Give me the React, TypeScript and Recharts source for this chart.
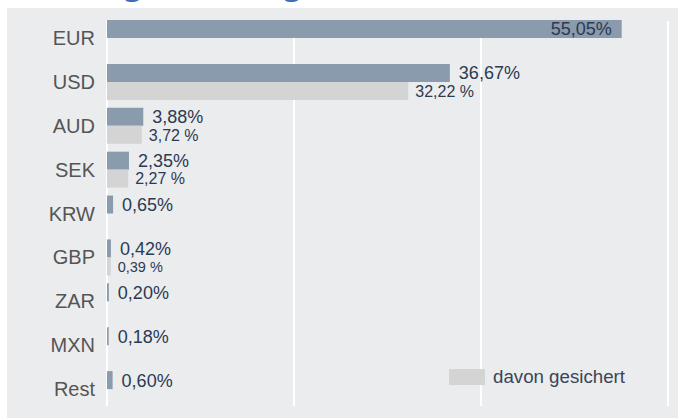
import React from 'react'
import { BarChart, Bar, XAxis, YAxis, CartesianGrid, LabelList } from 'recharts'

const categories = ['EUR', 'USD', 'AUD', 'SEK', 'KRW', 'GBP', 'ZAR', 'MXN', 'Rest']
const shareValues = [55.05, 36.67, 3.88, 2.35, 0.65, 0.42, 0.2, 0.18, 0.6]
const hedgedValues: (number | null)[] = [null, 32.22, 3.72, 2.27, null, 0.39, null, null, null]
const xTicks = [0, 20, 40, 60]

const data = categories.map((name, i) => ({ name, share: shareValues[i], hedged: hedgedValues[i] }))

const fmt = (v: number) => v.toFixed(2).replace('.', ',')
const PLOT_RIGHT = 668

function ShareLabel(props: any) {
  const { x, y, width, height, value } = props
  if (value == null) return null
  const txt = fmt(Number(value)) + '%'
  const inside = x + width + 75 > PLOT_RIGHT
  return (
    <text
      x={inside ? x + width - 10 : x + width + 9}
      y={y + height / 2}
      dy="0.36em"
      textAnchor={inside ? 'end' : 'start'}
      fontSize={18}
      fill="#2c3a52"
    >
      {txt}
    </text>
  )
}

function HedgedLabel(props: any) {
  const { x, y, width, height, value } = props
  if (value == null) return null
  return (
    <text
      x={x + width + 7}
      y={y + height / 2}
      dy="0.36em"
      fontSize={Number(value) < 1 ? 14.5 : 16}
      fill="#2c3a52"
    >
      {fmt(Number(value)) + ' %'}
    </text>
  )
}

export default function App() {
  return (
    <div style={{ position: 'absolute', left: 0, top: 0, width: 678, height: 419, background: '#fff', overflow: 'hidden', fontFamily: '"Liberation Sans", Arial, sans-serif' }}>
      {/* title sits above the panel, only its descenders peek out */}
      <div style={{ position: 'absolute', left: -3, top: -35, fontFamily: '"Liberation Serif", serif', fontWeight: 'bold', fontSize: 35, lineHeight: 1, color: '#3d6fb6', whiteSpace: 'nowrap' }}>
        Währungssicherung
      </div>
      <div style={{ position: 'absolute', left: 7, top: 8, width: 671, height: 410, background: '#ebecee' }} />
      <div style={{ position: 'absolute', left: 0, top: 0 }}>
        <BarChart
          width={678}
          height={419}
          data={data}
          layout="vertical"
          margin={{ top: 16, right: 10, bottom: 8, left: 0 }}
          barGap={0}
        >
          <CartesianGrid horizontal={false} stroke="#ffffff" strokeWidth={2} y={21} height={385} />
          <XAxis type="number" domain={[0, 60]} ticks={xTicks} hide />
          <YAxis
            type="category"
            dataKey="name"
            width={107}
            axisLine={false}
            tickLine={false}
            tickSize={0}
            tickMargin={12}
            tick={{ fontSize: 20, fill: '#555555' }}
          />
          <Bar dataKey="share" fill="#8a9bad" barSize={18} isAnimationActive={false}>
            <LabelList dataKey="share" content={ShareLabel} />
          </Bar>
          <Bar dataKey="hedged" fill="#d4d4d4" barSize={18} isAnimationActive={false}>
            <LabelList dataKey="hedged" content={HedgedLabel} />
          </Bar>
        </BarChart>
      </div>
      <div style={{ position: 'absolute', left: 449, top: 369, display: 'flex', alignItems: 'center' }}>
        <div style={{ width: 36, height: 16, background: '#d4d4d4' }} />
        <span style={{ marginLeft: 8, fontSize: 18.7, color: '#3a4558', lineHeight: '16px' }}>davon gesichert</span>
      </div>
    </div>
  )
}
